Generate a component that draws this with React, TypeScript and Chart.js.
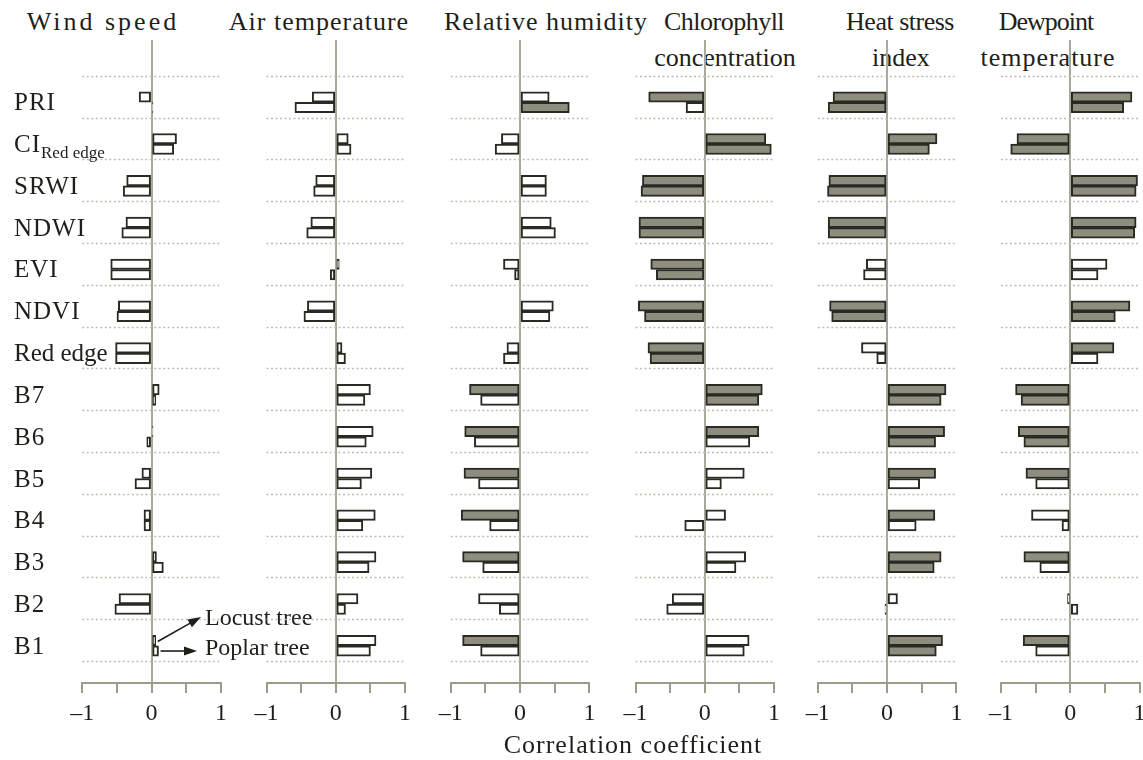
import React, { useEffect, useRef } from 'react';
import { Chart, registerables } from 'chart.js';

Chart.register(...registerables);

// ---------- data ----------
const categories = ['PRI', 'CI_Red edge', 'SRWI', 'NDWI', 'EVI', 'NDVI', 'Red edge', 'B7', 'B6', 'B5', 'B4', 'B3', 'B2', 'B1'];
const seriesNames = ['Locust tree', 'Poplar tree'];
const panelTitles = [['Wind speed'], ['Air temperature'], ['Relative humidity'], ['Chlorophyll', 'concentration'], ['Heat stress', 'index'], ['Dewpoint', 'temperature']];
const xTickLabels: Record<string, string> = { '-1': '\u20131', '0': '0', '1': '1' };
const xAxisTitle = 'Correlation coefficient';

const windLocust = [-0.18, 0.36, -0.36, -0.37, -0.59, -0.48, -0.52, 0.11, 0.02, -0.14, -0.11, 0.07, -0.47, 0.06];
const windPoplar = [0.02, 0.32, -0.41, -0.43, -0.59, -0.5, -0.52, 0.06, -0.07, -0.24, -0.11, 0.17, -0.53, 0.1];
const windLocustSig = [0, 0, 0, 0, 0, 0, 0, 0, 0, 0, 0, 0, 0, 0];
const windPoplarSig = [0, 0, 0, 0, 0, 0, 0, 0, 0, 0, 0, 0, 0, 0];

const airLocust = [-0.34, 0.18, -0.29, -0.36, 0.05, -0.41, 0.09, 0.5, 0.54, 0.52, 0.57, 0.58, 0.32, 0.58];
const airPoplar = [-0.59, 0.22, -0.32, -0.42, -0.08, -0.46, 0.14, 0.42, 0.44, 0.37, 0.39, 0.48, 0.14, 0.5];
const airLocustSig = [0, 0, 0, 0, 0, 0, 0, 0, 0, 0, 0, 0, 0, 0];
const airPoplarSig = [0, 0, 0, 0, 0, 0, 0, 0, 0, 0, 0, 0, 0, 0];

const humLocust = [0.42, -0.27, 0.38, 0.45, -0.24, 0.48, -0.19, -0.73, -0.8, -0.81, -0.85, -0.83, -0.6, -0.83];
const humPoplar = [0.71, -0.36, 0.38, 0.51, -0.08, 0.43, -0.24, -0.57, -0.66, -0.6, -0.44, -0.54, -0.3, -0.57];
const humLocustSig = [0, 0, 0, 0, 0, 0, 0, 1, 1, 1, 1, 1, 0, 1];
const humPoplarSig = [1, 0, 0, 0, 0, 0, 0, 0, 0, 0, 0, 0, 0, 0];

const chlLocust = [-0.81, 0.88, -0.9, -0.95, -0.78, -0.96, -0.82, 0.83, 0.78, 0.57, 0.3, 0.59, -0.47, 0.64];
const chlPoplar = [-0.27, 0.96, -0.92, -0.95, -0.7, -0.87, -0.79, 0.78, 0.65, 0.24, -0.29, 0.45, -0.55, 0.57];
const chlLocustSig = [1, 1, 1, 1, 1, 1, 1, 1, 1, 0, 0, 0, 0, 0];
const chlPoplarSig = [0, 1, 1, 1, 1, 1, 1, 1, 0, 0, 0, 0, 0, 0];

const heatLocust = [-0.78, 0.72, -0.84, -0.85, -0.3, -0.83, -0.37, 0.85, 0.83, 0.7, 0.69, 0.78, 0.15, 0.8];
const heatPoplar = [-0.85, 0.61, -0.86, -0.85, -0.34, -0.8, -0.15, 0.78, 0.7, 0.47, 0.42, 0.68, -0.03, 0.71];
const heatLocustSig = [1, 1, 1, 1, 0, 1, 0, 1, 1, 1, 1, 1, 0, 1];
const heatPoplarSig = [1, 1, 1, 1, 0, 1, 0, 1, 1, 0, 0, 1, 0, 1];

const dewLocust = [0.89, -0.77, 0.97, 0.95, 0.53, 0.86, 0.63, -0.79, -0.75, -0.64, -0.56, -0.67, -0.04, -0.68];
const dewPoplar = [0.77, -0.86, 0.95, 0.93, 0.4, 0.65, 0.4, -0.71, -0.67, -0.5, -0.12, -0.44, 0.11, -0.5];
const dewLocustSig = [1, 1, 1, 1, 0, 1, 1, 1, 1, 1, 0, 1, 0, 1];
const dewPoplarSig = [1, 1, 1, 1, 0, 1, 0, 1, 1, 0, 0, 0, 0, 0];

const panelLocust = [windLocust, airLocust, humLocust, chlLocust, heatLocust, dewLocust];
const panelPoplar = [windPoplar, airPoplar, humPoplar, chlPoplar, heatPoplar, dewPoplar];
const panelLocustSig = [windLocustSig, airLocustSig, humLocustSig, chlLocustSig, heatLocustSig, dewLocustSig];
const panelPoplarSig = [windPoplarSig, airPoplarSig, humPoplarSig, chlPoplarSig, heatPoplarSig, dewPoplarSig];

// ---------- layout / style ----------
const W = 1143;
const H = 760;
const panelLeft = [82.3, 266.5, 450.8, 635.5, 817.8, 1001];
const panelWidth = 138.6;
const titleCenters = [[103], [319], [546], [724, 725], [900, 901], [1046, 1048]];
const titleSpacing = [[3], [1], [1], [-0.5], [-0.5, 0], [-1, 1]];
const titleSpacing2 = [[0], [0], [0], [0, 3], [0, 0], [0, 0]];
const plotTop = 40;
const axisY = 683;
const axisBoxH = 60;
const yMin = -1.488;
const yMax = 13.89;
const rowLineOffset = -0.634;

const FONT = '"Liberation Serif", "Times New Roman", serif';
const TEXT = '#1f1f1a';
const GRAY_FILL = '#8f8d80';
const WHITE_FILL = '#ffffff';
const BAR_EDGE = '#2a2a22';
const AXIS_GRAY = '#9c9c8c';
const ZERO_GRAY = '#a9a99b';
const DOT_GRAY = '#bdbdb0';

function drawArrow(ctx: CanvasRenderingContext2D, x1: number, y1: number, x2: number, y2: number) {
  const ang = Math.atan2(y2 - y1, x2 - x1);
  const hl = 13;
  const hw = 4.5;
  ctx.save();
  ctx.strokeStyle = TEXT;
  ctx.fillStyle = TEXT;
  ctx.lineWidth = 1.6;
  ctx.setLineDash([]);
  ctx.beginPath();
  ctx.moveTo(x1, y1);
  ctx.lineTo(x2 - Math.cos(ang) * hl * 0.8, y2 - Math.sin(ang) * hl * 0.8);
  ctx.stroke();
  ctx.beginPath();
  ctx.moveTo(x2, y2);
  ctx.lineTo(x2 - Math.cos(ang) * hl - Math.sin(ang) * hw, y2 - Math.sin(ang) * hl + Math.cos(ang) * hw);
  ctx.lineTo(x2 - Math.cos(ang) * hl + Math.sin(ang) * hw, y2 - Math.sin(ang) * hl - Math.cos(ang) * hw);
  ctx.closePath();
  ctx.fill();
  ctx.restore();
}

function makePanelPlugin(panel: number) {
  return {
    id: 'panelDecor' + panel,
    beforeDatasetsDraw(chart: any) {
      const { ctx, chartArea } = chart;
      const ys = chart.scales.y;
      ctx.save();
      ctx.strokeStyle = DOT_GRAY;
      ctx.lineWidth = 1.5;
      ctx.setLineDash([2, 2.5]);
      for (let k = 0; k <= categories.length; k++) {
        const y = Math.round(ys.getPixelForValue(k + rowLineOffset)) + 0.5;
        ctx.beginPath();
        ctx.moveTo(chartArea.left, y);
        ctx.lineTo(chartArea.right, y);
        ctx.stroke();
      }
      ctx.restore();
    },
    afterDraw(chart: any) {
      if (panel !== 0) return;
      const { ctx } = chart;
      const ys = chart.scales.y;
      ctx.save();
      ctx.fillStyle = TEXT;
      ctx.textBaseline = 'alphabetic';
      ctx.textAlign = 'left';
      categories.forEach((lab, i) => {
        const yc = ys.getPixelForValue(i);
        const base = yc + 8;
        const parts = lab.split('_');
        ctx.font = '25px ' + FONT;
        (ctx as any).letterSpacing = lab === 'Red edge' ? '0px' : '1px';
        ctx.fillText(parts[0], 14, base);
        if (parts[1]) {
          const w = ctx.measureText(parts[0]).width;
          ctx.font = '17px ' + FONT;
          (ctx as any).letterSpacing = '0px';
          ctx.fillText(parts[1], 14 + w, base + 6);
        }
      });
      // legend annotation with arrows
      const last = categories.length - 1;
      const bL = chart.getDatasetMeta(0).data[last];
      const bP = chart.getDatasetMeta(1).data[last];
      ctx.font = '24px ' + FONT;
      (ctx as any).letterSpacing = '0px';
      ctx.textBaseline = 'middle';
      const tx = 205;
      const tyL = 619;
      const tyP = 649;
      ctx.fillText(seriesNames[0], tx, tyL);
      ctx.fillText(seriesNames[1], tx, tyP);
      drawArrow(ctx, bL.x + 2, bL.y + 1, tx - 4, tyL - 2);
      drawArrow(ctx, bP.x + 2, bP.y, tx - 8, bP.y);
      ctx.restore();
    },
  };
}

function PanelChart({ panel }: { panel: number }) {
  const ref = useRef<HTMLCanvasElement | null>(null);
  useEffect(() => {
    if (!ref.current) return;
    const mk = (vals: number[]) => vals.map((v, i) => ({ x: v, y: i }));
    const fills = (sig: number[]) => sig.map((s) => (s ? GRAY_FILL : WHITE_FILL));
    const chart = new Chart(ref.current, {
      type: 'bar',
      data: {
        datasets: [
          {
            label: seriesNames[0],
            data: mk(panelLocust[panel]),
            backgroundColor: fills(panelLocustSig[panel]),
            borderColor: BAR_EDGE,
            borderWidth: 2,
            borderSkipped: false,
            barThickness: 10.5,
          },
          {
            label: seriesNames[1],
            data: mk(panelPoplar[panel]),
            backgroundColor: fills(panelPoplarSig[panel]),
            borderColor: BAR_EDGE,
            borderWidth: 2,
            borderSkipped: false,
            barThickness: 10.5,
          },
        ],
      } as any,
      options: {
        indexAxis: 'y',
        responsive: false,
        animation: false,
        devicePixelRatio: 1,
        layout: {
          padding: {
            left: panelLeft[panel],
            right: W - panelLeft[panel] - panelWidth,
            top: plotTop,
            bottom: H - axisY - axisBoxH,
          },
        },
        plugins: { legend: { display: false }, tooltip: { enabled: false }, title: { display: false } },
        scales: {
          y: {
            type: 'linear',
            reverse: true,
            min: yMin,
            max: yMax,
            offset: false,
            bounds: 'data',
            grace: 0,
            display: false,
            grid: { offset: false },
          },
          x: {
            type: 'linear',
            position: 'bottom',
            min: -1,
            max: 1,
            offset: false,
            afterFit: (s: any) => {
              s.height = axisBoxH;
              s.paddingLeft = 0;
              s.paddingRight = 0;
            },
            border: { display: true, color: AXIS_GRAY, width: 2 },
            grid: {
              drawOnChartArea: true,
              drawTicks: true,
              tickLength: 10,
              lineWidth: 2,
              color: (c: any) => (c.tick && c.tick.value === 0 ? ZERO_GRAY : 'rgba(0,0,0,0)'),
              tickColor: AXIS_GRAY,
            },
            ticks: {
              stepSize: 0.5,
              autoSkip: false,
              maxRotation: 0,
              padding: 6,
              color: TEXT,
              font: { family: FONT, size: 24 },
              callback: (v: any) => xTickLabels[String(v)] ?? '',
            },
          },
        },
      } as any,
      plugins: [makePanelPlugin(panel)],
    });
    return () => chart.destroy();
  }, [panel]);
  return (
    <canvas
      ref={ref}
      width={W}
      height={H}
      style={{ position: 'absolute', left: 0, top: 0, width: W, height: H }}
    />
  );
}

export default function App() {
  const titleStyle = (p: number, row: number): React.CSSProperties => ({
    position: 'absolute',
    left: titleCenters[p][row] - 150,
    width: 300,
    top: 22 + row * 36 - 16,
    height: 32,
    lineHeight: '32px',
    textAlign: 'center',
    fontFamily: FONT,
    fontSize: 26,
    letterSpacing: titleSpacing[p][row] + titleSpacing2[p][row] + 'px',
    color: TEXT,
    whiteSpace: 'nowrap',
  });
  return (
    <div style={{ position: 'absolute', left: 0, top: 0, width: W, height: H, background: '#ffffff', overflow: 'hidden' }}>
      {panelTitles.map((lines, p) =>
        lines.map((t, r) => (
          <div key={p + '-' + r} style={titleStyle(p, r)}>
            {t}
          </div>
        ))
      )}
      {panelLocust.map((_, p) => (
        <PanelChart key={p} panel={p} />
      ))}
      <div
        style={{
          position: 'absolute',
          left: 633 - 200,
          width: 400,
          top: 730,
          height: 30,
          lineHeight: '30px',
          textAlign: 'center',
          fontFamily: FONT,
          fontSize: 26,
          letterSpacing: '1px',
          color: TEXT,
        }}
      >
        {xAxisTitle}
      </div>
    </div>
  );
}
